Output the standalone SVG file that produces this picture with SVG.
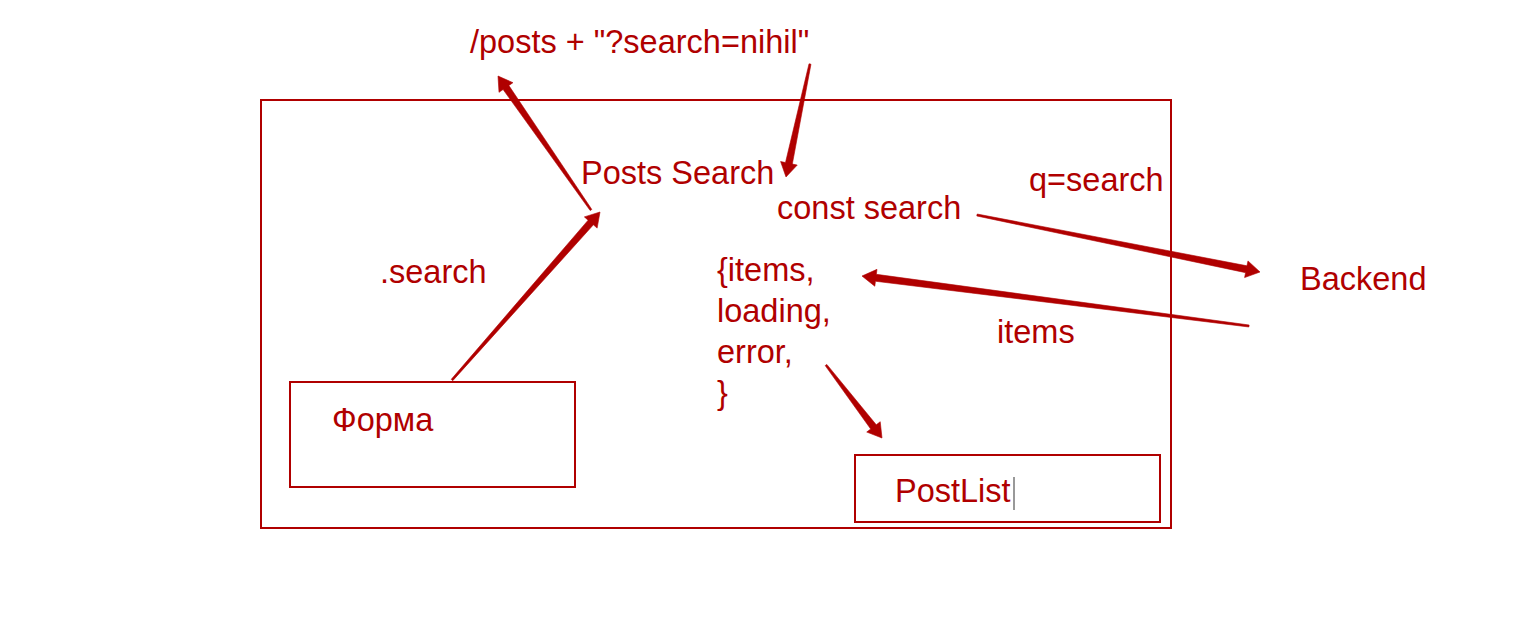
<svg xmlns="http://www.w3.org/2000/svg" width="1518" height="618" viewBox="0 0 1518 618">
<style>
  .t { font-family: "Liberation Sans", Arial, sans-serif; font-size: 32.5px; fill: #b00000; }
  .box { fill: none; stroke: #b00000; stroke-width: 2; }
  .arr { fill: #b00000; stroke: #b00000; stroke-width: 0.6; stroke-linejoin: round; }
</style>
<rect width="1518" height="618" fill="#ffffff"/>
<g id="container">
  <rect class="box" x="261" y="100" width="910" height="428"/>
</g>
<g id="url"><text class="t" x="470" y="53">/posts + "?search=nihil"</text></g>
<g id="posts-search"><text class="t" x="581" y="184">Posts Search</text></g>
<g id="const-search"><text class="t" x="777" y="219">const search</text></g>
<g id="q-search"><text class="t" x="1029" y="191">q=search</text></g>
<g id="backend"><text class="t" x="1300" y="290">Backend</text></g>
<g id="dot-search"><text class="t" x="380" y="283">.search</text></g>
<g id="result">
  <text class="t" x="717" y="281">{items,</text>
  <text class="t" x="717" y="322">loading,</text>
  <text class="t" x="717" y="363">error,</text>
  <text class="t" x="717" y="404">}</text>
</g>
<g id="items-label"><text class="t" x="997" y="343">items</text></g>
<g id="forma">
  <rect class="box" x="290" y="382" width="285" height="105"/>
  <text class="t" x="332" y="431">Форма</text>
</g>
<g id="postlist">
  <rect class="box" x="855" y="455" width="305" height="67"/>
  <text class="t" x="895" y="502">PostList</text>
  <line x1="1014" y1="477" x2="1014" y2="510" stroke="#777777" stroke-width="1.5"/>
</g>
<g id="connectors">
  <polygon class="arr" points="591.82,209.43 508.86,85.51 512.96,82.66 498,76 499.00,92.35 503.10,89.50 590.18,210.57"/>
  <polygon class="arr" points="809.02,63.79 785.49,162.57 780.59,161.53 786,177 797.23,165.07 792.33,164.03 810.98,64.21"/>
  <polygon class="arr" points="452.75,380.66 593.38,224.81 597.13,228.12 600,212 584.37,216.88 588.12,220.19 451.25,379.34"/>
  <polygon class="arr" points="976.80,215.98 1245.59,272.67 1244.60,277.57 1260,272 1247.96,260.91 1246.97,265.81 977.20,214.02"/>
  <polygon class="arr" points="1249.13,325.01 876.34,274.32 876.98,269.36 862,276 874.80,286.22 875.44,281.26 1248.87,326.99"/>
  <polygon class="arr" points="825.21,365.61 870.70,429.02 866.73,432.06 882,438 880.23,421.72 876.26,424.76 826.79,364.39"/>
</g>
</svg>
